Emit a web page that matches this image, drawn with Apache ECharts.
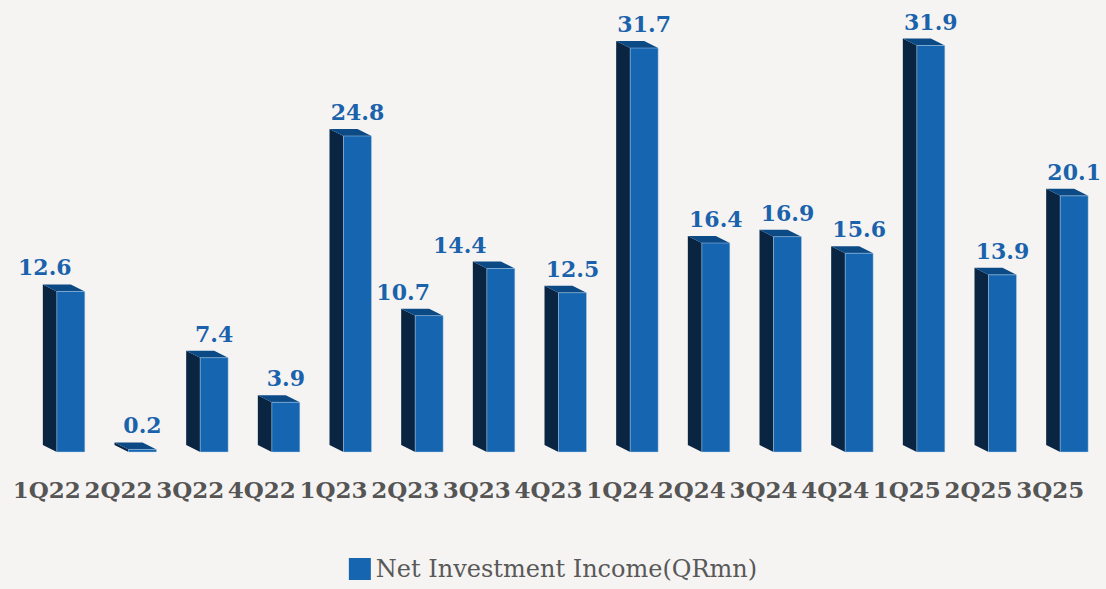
<!DOCTYPE html>
<html>
<head>
<meta charset="utf-8">
<script src="https://cdn.jsdelivr.net/npm/echarts@6/dist/echarts.min.js"></script>
<style>
  html, body { margin: 0; padding: 0; background: #f5f4f2; }
  #chart { width: 1106px; height: 589px; }
</style>
</head>
<body>
<div id="chart"></div>
<script>
const categories = ['1Q22','2Q22','3Q22','4Q22','1Q23','2Q23','3Q23','4Q23','1Q24','2Q24','3Q24','4Q24','1Q25','2Q25','3Q25'];
const netInvestmentIncome = [12.6, 0.2, 7.4, 3.9, 24.8, 10.7, 14.4, 12.5, 31.7, 16.4, 16.9, 15.6, 31.9, 13.9, 20.1];
const seriesName = 'Net Investment Income(QRmn)';

// label horizontal nudges (styling only, pixels)
const labelNudge = [-26, 0, 0, 0, 0, -26, -41, 0, 0, 0, 0, 0, 0, 0, 0];

const FRONT = '#1565b0', SIDE = '#0a2542', TOP = '#0c4a86';
const FW = 28, DX = 14, DY = 7;

const chart = echarts.init(document.getElementById('chart'), null, { renderer: 'svg' });
chart.setOption({
  backgroundColor: '#f5f4f2',
  animation: false,
  grid: { left: 28, right: 3, top: 6, bottom: 137 },
  legend: {
    bottom: 3, left: 'center',
    icon: 'rect', itemWidth: 22, itemHeight: 22, itemGap: 8,
    textStyle: { fontFamily: 'DejaVu Serif', fontSize: 24, color: '#595959' },
    data: [seriesName]
  },
  xAxis: {
    type: 'category', data: categories,
    axisLine: { show: false }, axisTick: { show: false },
    axisLabel: {
      interval: 0, margin: 26, padding: [0, 34, 0, 0],
      fontFamily: 'DejaVu Serif', fontWeight: 'bold', fontSize: 23, color: '#555555'
    }
  },
  yAxis: { type: 'value', min: 0, max: 35, show: false, splitLine: { show: false } },
  series: [{
    name: seriesName,
    type: 'custom',
    itemStyle: { color: FRONT },
    data: netInvestmentIncome.map((v, i) => [i, v]),
    renderItem: function (params, api) {
      const i = api.value(0), v = api.value(1);
      const top = api.coord([i, v]);
      const base = api.coord([i, 0]);
      const c = top[0], yt = top[1], yb = base[1];
      const fl = c - 7, fr = c + 21;
      return {
        type: 'group',
        children: [
          { type: 'polygon', shape: { points: [[fl - DX, yt - DY], [fl, yt], [fl, yb], [fl - DX, yb - DY]] },
            style: { fill: SIDE } },
          { type: 'polygon', shape: { points: [[fl - DX, yt - DY], [fr - DX, yt - DY], [fr, yt], [fl, yt]] },
            style: { fill: TOP } },
          { type: 'rect', shape: { x: fl, y: yt, width: FW, height: Math.max(yb - yt, 0.5) },
            style: { fill: FRONT, stroke: 'rgba(190,215,240,0.55)', lineWidth: 0.8 } },
          { type: 'text',
            style: {
              text: v.toFixed(1), x: c + 7 + labelNudge[i], y: yt - 13,
              align: 'center', verticalAlign: 'bottom',
              font: 'bold 22px "DejaVu Serif"', fill: '#1a62ab'
            } }
        ]
      };
    }
  }]
});
</script>
</body>
</html>
